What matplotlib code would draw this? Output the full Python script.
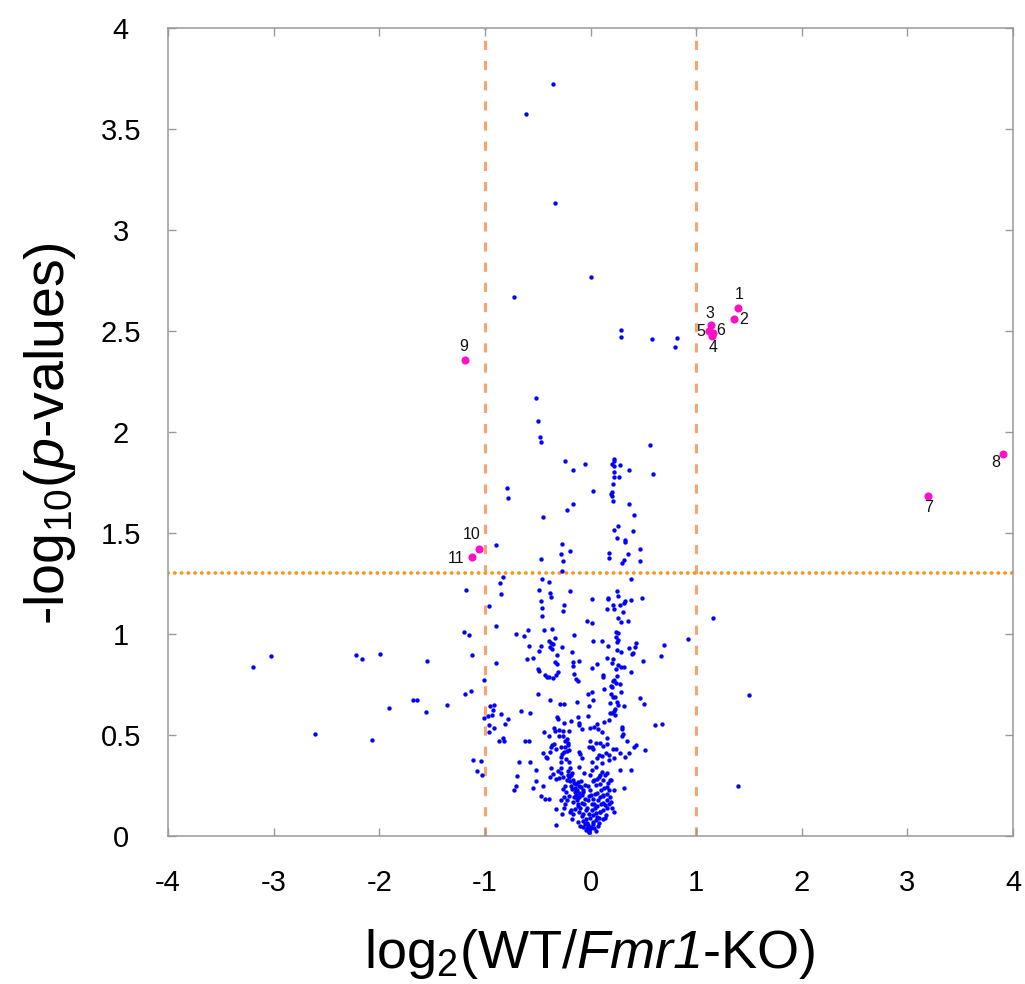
import matplotlib
matplotlib.use("Agg")
import matplotlib.pyplot as plt
import numpy as np

plt.rcParams['font.family'] = ['Liberation Sans', 'DejaVu Sans']
plt.rcParams['mathtext.fontset'] = 'custom'
plt.rcParams['mathtext.rm'] = 'Liberation Sans'
plt.rcParams['mathtext.it'] = 'Liberation Sans:italic'
plt.rcParams['mathtext.sf'] = 'Liberation Sans:italic'
plt.rcParams['mathtext.bf'] = 'Liberation Sans:bold'

# ---------------- data (log2 fold change, -log10 p) ----------------
# upper sparse points
top_pts = [(-0.356, 3.723), (-0.61, 3.574), (-0.335, 3.134), (0.006, 2.767), (-0.723, 2.668),
           (0.29, 2.505), (0.29, 2.470), (0.583, 2.460), (0.82, 2.465), (0.80, 2.421),
           (-0.512, 2.170), (-0.496, 2.054), (-0.480, 1.975), (-0.468, 1.950), (0.564, 1.936),
           (-0.241, 1.855), (-0.051, 1.843), (-0.165, 1.812), (0.220, 1.865), (0.223, 1.855),
           (0.208, 1.842), (0.227, 1.832), (0.280, 1.838), (0.227, 1.804), (0.220, 1.779),
           (0.217, 1.741), (0.271, 1.777), (0.365, 1.812), (0.590, 1.790), (0.025, 1.706),
           (0.201, 1.705), (0.198, 1.693), (0.208, 1.683), (0.211, 1.660), (-0.789, 1.721),
           (-0.783, 1.675), (-0.162, 1.644), (-0.218, 1.616), (0.368, 1.644), (0.416, 1.587),
           (-0.452, 1.581), (0.223, 1.515), (0.264, 1.535), (0.400, 1.512), (0.255, 1.475),
           (0.328, 1.464), (0.328, 1.454), (-0.272, 1.447), (-0.891, 1.439), (-0.196, 1.413),
           (-0.279, 1.394), (-0.263, 1.360), (0.179, 1.399), (0.176, 1.375), (0.359, 1.398),
           (0.473, 1.419), (0.470, 1.360), (0.302, 1.353), (0.318, 1.365), (-0.471, 1.371),
           (-0.269, 1.310)]

# left / outer sparse points
side_pts = [(-3.198, 0.837), (-3.025, 0.891), (-2.611, 0.505), (-2.220, 0.896), (-2.160, 0.875),
            (-1.989, 0.903), (-2.071, 0.477), (-1.907, 0.632), (-1.677, 0.672), (-1.639, 0.672),
            (-1.560, 0.612), (-1.551, 0.868), (-1.355, 0.650), (-1.175, 1.218), (-1.194, 1.010),
            (-1.153, 0.997), (-1.124, 0.898), (-1.187, 0.701), (-1.134, 0.718), (-1.007, 0.774),
            (-1.011, 0.584), (-1.112, 0.376), (-1.039, 0.370), (-1.071, 0.323), (-1.027, 0.304),
            (-0.963, 1.139), (-0.963, 0.550), (-0.963, 0.513), (-0.967, 0.596),
            (1.159, 1.079), (1.502, 0.698), (1.398, 0.248)]

# middle band points
mid_pts = [(-0.828, 1.282), (-0.455, 1.274), (-0.392, 1.257), (0.381, 1.271), (-0.859, 1.251),
           (-0.490, 1.216), (-0.386, 1.201), (-0.373, 1.185), (-0.190, 1.215), (0.252, 1.215),
           (0.258, 1.190), (0.164, 1.180), (0.167, 1.172), (-0.843, 1.198), (0.015, 1.172),
           (0.328, 1.165), (0.321, 1.152), (0.384, 1.170), (0.489, 1.177), (-0.468, 1.162),
           (-0.253, 1.145), (-0.259, 1.114), (0.214, 1.142), (0.154, 1.125), (0.220, 1.125),
           (0.283, 1.145), (0.306, 1.111), (-0.455, 1.129), (-0.455, 1.087), (0.265, 1.078),
           (0.290, 1.059), (0.359, 1.064), (-0.029, 1.063), (0.015, 1.053), (-0.894, 1.040),
           (-0.708, 1.000), (-0.629, 0.990), (-0.594, 1.018), (-0.439, 1.018), (-0.364, 1.023),
           (-0.155, 0.995), (0.239, 1.010), (0.261, 1.003), (0.246, 0.987), (0.258, 0.970),
           (-0.335, 0.982), (-0.389, 0.964), (-0.373, 0.957), (-0.354, 0.950), (-0.468, 0.942),
           (-0.383, 0.937), (-0.361, 0.926), (-0.579, 0.941), (-0.484, 0.916), (0.021, 0.967),
           (0.110, 0.967), (0.170, 0.941), (0.252, 0.962), (0.249, 0.921), (0.290, 0.911),
           (0.369, 0.931), (0.429, 0.957), (0.422, 0.936), (0.400, 0.908), (0.391, 0.901),
           (0.694, 0.944), (0.927, 0.974), (-0.319, 0.896), (-0.269, 0.936), (-0.171, 0.911),
           (-0.597, 0.876), (-0.540, 0.883), (0.157, 0.883), (0.217, 0.878), (0.208, 0.856),
           (0.287, 0.835), (0.265, 0.847), (0.498, 0.865), (0.665, 0.891), (-0.332, 0.863),
           (-0.313, 0.850), (-0.162, 0.860), (-0.165, 0.842), (-0.111, 0.866), (0.059, 0.853),
           (0.015, 0.833), (0.242, 0.827), (0.315, 0.837), (0.384, 0.814), (-0.496, 0.827),
           (-0.487, 0.815), (-0.427, 0.795), (-0.414, 0.787), (-0.392, 0.787), (-0.357, 0.781),
           (-0.322, 0.797), (-0.310, 0.810), (-0.159, 0.802), (-0.133, 0.779), (-0.121, 0.766),
           (0.119, 0.797), (0.122, 0.787), (0.252, 0.792), (0.224, 0.772), (0.211, 0.769),
           (0.239, 0.756), (0.192, 0.744), (0.201, 0.738), (0.277, 0.751), (0.132, 0.726),
           (-0.499, 0.701), (-0.383, 0.675), (0.015, 0.715), (-0.020, 0.701), (0.198, 0.703),
           (0.211, 0.690), (0.233, 0.688), (0.290, 0.711), (0.467, 0.682), (0.021, 0.673),
           (-0.894, 0.856)]

# lower dense cloud
base_pts = [(-0.916, 0.647), (-0.925, 0.624), (-0.928, 0.597), (-0.951, 0.645), (-0.850, 0.604),
            (-0.783, 0.581), (-0.809, 0.554), (-0.913, 0.535), (-0.869, 0.472), (-0.831, 0.483),
            (-0.815, 0.469), (-0.657, 0.617), (-0.569, 0.609), (-0.619, 0.472), (-0.584, 0.472),
            (-0.679, 0.366), (-0.569, 0.368), (-0.518, 0.327), (-0.700, 0.297), (-0.704, 0.248),
            (-0.723, 0.226), (-0.547, 0.236), (-0.515, 0.274), (-0.452, 0.248), (-0.468, 0.198),
            (-0.430, 0.182), (-0.392, 0.182), (-0.326, 0.132), (-0.279, 0.178), (-0.323, 0.056),
            (-0.269, 0.111),
            (-0.285, 0.652), (-0.250, 0.652), (-0.124, 0.665), (-0.010, 0.644), (-0.320, 0.587),
            (-0.304, 0.579), (-0.250, 0.558), (-0.184, 0.569), (-0.114, 0.591), (-0.105, 0.561),
            (-0.111, 0.551), (-0.020, 0.594), (-0.076, 0.530), (-0.437, 0.517), (-0.348, 0.533),
            (-0.338, 0.518), (-0.301, 0.525), (-0.256, 0.518), (-0.203, 0.518), (-0.389, 0.495),
            (-0.297, 0.495), (-0.263, 0.495), (-0.222, 0.479), (-0.237, 0.470), (-0.215, 0.462),
            (-0.209, 0.452), (-0.360, 0.450), (-0.345, 0.454), (-0.376, 0.442), (-0.282, 0.442),
            (-0.241, 0.442), (-0.323, 0.429), (-0.222, 0.419), (-0.203, 0.426), (-0.452, 0.409),
            (-0.424, 0.393), (-0.408, 0.384), (-0.382, 0.417), (-0.276, 0.393), (-0.250, 0.417),
            (-0.231, 0.380), (-0.206, 0.366), (-0.279, 0.368), (-0.266, 0.406), (-0.105, 0.414),
            (-0.099, 0.406), (-0.076, 0.384),
            (0.189, 0.660), (0.252, 0.663), (0.265, 0.647), (0.315, 0.644), (0.236, 0.630),
            (0.223, 0.620), (0.204, 0.611), (0.185, 0.607), (0.236, 0.597), (0.059, 0.554),
            (0.031, 0.541), (-0.007, 0.535), (0.072, 0.528), (0.129, 0.564), (0.176, 0.574),
            (0.113, 0.515), (0.160, 0.485), (0.299, 0.541), (0.302, 0.528), (0.306, 0.505),
            (0.299, 0.497), (0.350, 0.472), (0.511, 0.652), (0.612, 0.550), (0.681, 0.554),
            (-0.004, 0.472), (0.053, 0.459), (0.015, 0.442), (-0.016, 0.441), (0.028, 0.431),
            (0.091, 0.459), (0.122, 0.446), (0.160, 0.455), (0.148, 0.409), (0.179, 0.401),
            (0.106, 0.396), (0.078, 0.401), (0.066, 0.384), (0.176, 0.376), (0.226, 0.388),
            (0.211, 0.429), (0.239, 0.429), (0.280, 0.413), (0.325, 0.389), (0.366, 0.409),
            (0.413, 0.442), (0.429, 0.449), (0.520, 0.426), (0.012, 0.368),
            (-0.193, 0.335), (-0.215, 0.320), (-0.209, 0.302), (-0.177, 0.310), (-0.199, 0.290),
            (-0.168, 0.277), (-0.225, 0.277), (-0.193, 0.272), (-0.114, 0.266), (-0.136, 0.256),
            (-0.181, 0.248), (-0.111, 0.248), (-0.149, 0.236), (-0.171, 0.231), (-0.124, 0.228),
            (-0.089, 0.244), (-0.108, 0.211), (-0.136, 0.203), (-0.152, 0.195), (-0.105, 0.191),
            (-0.080, 0.201), (-0.127, 0.178), (-0.168, 0.170), (-0.080, 0.162), (-0.120, 0.149),
            (-0.098, 0.137), (-0.146, 0.132), (-0.184, 0.129), (-0.105, 0.120), (-0.067, 0.109),
            (-0.042, 0.129), (-0.057, 0.157), (-0.026, 0.178), (-0.051, 0.182), (-0.013, 0.196),
            (-0.067, 0.228), (-0.048, 0.252), (-0.004, 0.228), (0.009, 0.205), (0.028, 0.185),
            (0.066, 0.211), (0.075, 0.178), (0.037, 0.158), (0.066, 0.149), (0.047, 0.137),
            (0.012, 0.129), (-0.016, 0.109), (0.028, 0.104), (-0.004, 0.087), (-0.042, 0.083),
            (-0.035, 0.066), (-0.020, 0.053), (-0.029, 0.038), (-0.004, 0.033), (0.006, 0.046),
            (0.028, 0.059), (0.053, 0.079), (0.085, 0.087), (0.053, 0.112), (0.091, 0.120),
            (0.122, 0.129), (0.154, 0.137), (0.138, 0.153), (0.185, 0.195), (0.173, 0.228),
            (0.154, 0.241), (0.185, 0.277), (0.122, 0.277), (0.138, 0.302), (0.106, 0.318),
            (0.091, 0.302), (0.066, 0.281), (0.034, 0.277), (0.012, 0.327), (-0.004, 0.300),
            (0.053, 0.252), (0.091, 0.257), (0.100, 0.228), (0.122, 0.203), (0.154, 0.208),
            (0.201, 0.137), (0.148, 0.104), (0.122, 0.083), (0.078, 0.063), (0.053, 0.025),
            (-0.010, 0.021), (-0.067, 0.046), (-0.073, 0.076), (-0.114, 0.071), (-0.171, 0.084),
            (-0.193, 0.120), (-0.250, 0.137), (-0.218, 0.178), (-0.247, 0.195), (-0.263, 0.231),
            (-0.231, 0.218), (-0.237, 0.249), (-0.256, 0.290), (-0.276, 0.314), (-0.310, 0.323),
            (-0.294, 0.289), (-0.329, 0.284), (-0.282, 0.335), (-0.376, 0.335), (-0.351, 0.307),
            (-0.379, 0.290),
            (0.284, 0.327), (0.388, 0.327), (0.315, 0.236), (0.218, 0.228), (0.195, 0.277),
            (0.160, 0.178), (0.120, 0.162), (0.179, 0.158), (0.091, 0.195),
            (-0.05, 0.06), (0.02, 0.07), (-0.08, 0.10), (0.06, 0.095), (-0.12, 0.16),
            (0.10, 0.16), (-0.03, 0.14), (0.04, 0.21), (-0.15, 0.22), (0.13, 0.24),
            (-0.09, 0.27), (0.08, 0.29), (-0.18, 0.30), (0.16, 0.31), (-0.02, 0.25),
            (0.01, 0.16), (-0.06, 0.31), (0.05, 0.34), (-0.11, 0.34), (0.11, 0.36),
            (-0.20, 0.20), (0.19, 0.17), (-0.24, 0.16), (0.22, 0.12), (-0.01, 0.02),
            (0.03, 0.04), (-0.04, 0.03), (0.07, 0.05), (-0.13, 0.19), (0.12, 0.20),
            (-0.16, 0.26), (0.17, 0.26), (-0.07, 0.22), (0.02, 0.27), (0.09, 0.12),
            (-0.10, 0.05), (0.14, 0.09), (-0.17, 0.11)]

# significant proteins
sig_labels = ['1', '2', '3', '4', '5', '6', '7', '8', '9', '10', '11']
sig_x = [1.395, 1.363, 1.139, 1.152, 1.120, 1.157, 3.197, 3.907, -1.190, -1.052, -1.118]
sig_y = [2.615, 2.558, 2.528, 2.475, 2.500, 2.492, 1.683, 1.891, 2.356, 1.419, 1.383]
# label offsets in points
sig_dx = [1, 6.5, -1, 0.5, -5.8, 6, 0, -5, -0.7, -5.5, -12]
sig_dy = [9.4, 0, 8.6, -8.4, 0, 1.2, -8.6, -5.8, 10, 10.8, -1.7]

fc_thresholds = [-1, 1]
p_threshold = 1.301

x_ticks = [-4, -3, -2, -1, 0, 1, 2, 3, 4]
y_ticks = [0, 0.5, 1, 1.5, 2, 2.5, 3, 3.5, 4]
y_tick_labels = ['0', '0.5', '1', '1.5', '2', '2.5', '3', '3.5', '4']

# ---------------- figure ----------------
fig = plt.figure(figsize=(10.25, 9.84), dpi=100)
ax = fig.add_axes([168/1025, 1-836/984, (1013-168)/1025, (836-28)/984])

blue = top_pts + side_pts + mid_pts + base_pts
bx = [p[0] for p in blue]
by = [p[1] for p in blue]

for xv in fc_thresholds:
    ax.axvline(xv, color='#F9A46E', lw=2.2, linestyle=(0, (3.0, 3.6)), zorder=1)
ax.axhline(p_threshold, color='#F7951E', lw=2.7, linestyle=(0, (0.05, 1.75)),
           dash_capstyle='round', zorder=1)

ax.scatter(bx, by, s=10, color='#0000FF', linewidths=0, zorder=3)
ax.scatter(sig_x, sig_y, s=34, color='#FF10C8', linewidths=0, zorder=4)
for lab, x, y, dx, dy in zip(sig_labels, sig_x, sig_y, sig_dx, sig_dy):
    ax.annotate(lab, (x, y), xytext=(dx, dy), textcoords='offset points',
                ha='center', va='center', fontsize=11.5, color='#111111', zorder=5)

ax.set_xlim(-4, 4)
ax.set_ylim(0, 4)
ax.set_xticks(x_ticks)
ax.set_xticklabels([str(t) for t in x_ticks])
ax.set_yticks(y_ticks)
ax.set_yticklabels(y_tick_labels)

for sp in ax.spines.values():
    sp.set_color('#999999')
    sp.set_linewidth(1.1)
ax.tick_params(axis='both', which='major', direction='in', length=6, width=1.0,
               color='#999999', top=True, right=True, labelsize=21, labelcolor='black')
ax.tick_params(axis='x', pad=24)
ax.tick_params(axis='y', pad=34)
for lbl in ax.get_yticklabels():
    lbl.set_horizontalalignment('center')

fig.text(590/1025, 1-968/984, r'log$_2$(WT/$\mathsf{Fmr1}$-KO)', ha='center', va='baseline',
         fontsize=39)
fig.text(64/1025, 1-434/984, r'-log$_{10}$($p$-values)', ha='center', va='baseline',
         rotation=90, rotation_mode='anchor', fontsize=40)

fig.savefig('out.png', dpi=100)
